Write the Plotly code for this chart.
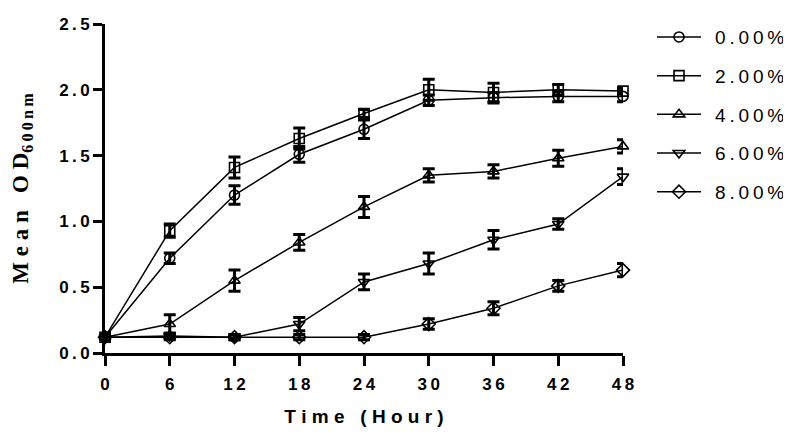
import plotly.graph_objects as go

hours = [0, 6, 12, 18, 24, 30, 36, 42, 48]
labels = ["0.00%", "2.00%", "4.00%", "6.00%", "8.00%"]
symbols = ["circle-open", "square-open", "triangle-up-open", "triangle-down-open", "diamond-open"]
y_ticks = [0, 0.5, 1.0, 1.5, 2.0, 2.5]

od_0 = [0.12, 0.72, 1.20, 1.51, 1.70, 1.92, 1.94, 1.95, 1.95]
od_2 = [0.12, 0.93, 1.41, 1.63, 1.82, 2.00, 1.98, 2.00, 1.99]
od_4 = [0.12, 0.22, 0.55, 0.84, 1.11, 1.35, 1.38, 1.48, 1.57]
od_6 = [0.12, 0.13, 0.12, 0.22, 0.54, 0.68, 0.86, 0.98, 1.34]
od_8 = [0.12, 0.12, 0.12, 0.12, 0.12, 0.22, 0.34, 0.51, 0.63]

err_0 = [0.03, 0.04, 0.07, 0.06, 0.07, 0.04, 0.04, 0.04, 0.04]
err_2 = [0.03, 0.05, 0.08, 0.08, 0.03, 0.08, 0.07, 0.04, 0.02]
err_4 = [0.03, 0.07, 0.08, 0.06, 0.08, 0.05, 0.05, 0.06, 0.05]
err_6 = [0.03, 0.02, 0.02, 0.05, 0.06, 0.08, 0.07, 0.04, 0.06]
err_8 = [0.03, 0.02, 0.02, 0.02, 0.02, 0.04, 0.05, 0.04, 0.05]

series = [od_0, od_2, od_4, od_6, od_8]
errors = [err_0, err_2, err_4, err_6, err_8]

# the original uses wide letter spacing, thin spaces stand in for it
def spaced(s, sep="\u2009"):
    return sep.join(s)

sans = "Liberation Sans, Arial"
serif = "Liberation Serif, Times New Roman"

fig = go.Figure()
for lab, sym, ys, es in zip(labels, symbols, series, errors):
    fig.add_trace(go.Scatter(
        x=hours, y=ys, name="\u00a0\u2009" + spaced(lab), mode="lines+markers",
        legendgroup=lab,
        line=dict(color="black", width=1.5),
        marker=dict(symbol=sym, size=10, color="black", line=dict(width=1.6)),
        error_y=dict(type="data", array=es, color="black", thickness=3, width=6),
        cliponaxis=False,
    ))

# page body has an 8px margin; the figure is made a little wider than the
# window so the legend box never pushes the plot area narrower
fig.update_layout(
    width=800, height=427,
    margin=dict(l=97, r=185, t=10, b=82),
    paper_bgcolor="white", plot_bgcolor="white",
    font=dict(family=sans, color="black"),
    legend=dict(x=1.056, y=1.018, xanchor="left", yanchor="top",
                font=dict(size=19, family=sans),
                itemwidth=44, tracegroupgap=11, bgcolor="rgba(0,0,0,0)"),
    xaxis=dict(range=[0, 48], tickvals=hours, ticktext=[spaced(str(h)) for h in hours],
               showgrid=False, zeroline=False, automargin=False,
               showline=True, linecolor="black", linewidth=3,
               ticks="outside", tickwidth=3, ticklen=10, tickcolor="black",
               ticklabelstandoff=4,
               tickfont=dict(size=17, family=sans, weight="bold"),
               title=dict(text=spaced("Time (Hour)", " "), standoff=17,
                          font=dict(size=19, family=sans, weight="bold"))),
    yaxis=dict(range=[0, 2.5], tickvals=y_ticks, ticktext=[spaced(f"{v:.1f}") for v in y_ticks],
               showgrid=False, zeroline=False, automargin=False,
               showline=True, linecolor="black", linewidth=3,
               ticks="outside", tickwidth=3, ticklen=9, tickcolor="black",
               ticklabeloverflow="allow",
               tickfont=dict(size=17, family=sans, weight="bold"),
               title=dict(text=spaced("Mean OD", " ") + "<sub>" + spaced("600nm") + "</sub>",
                          standoff=34,
                          font=dict(size=23, family=serif, weight="bold"))),
)

fig.write_html("out.html")
